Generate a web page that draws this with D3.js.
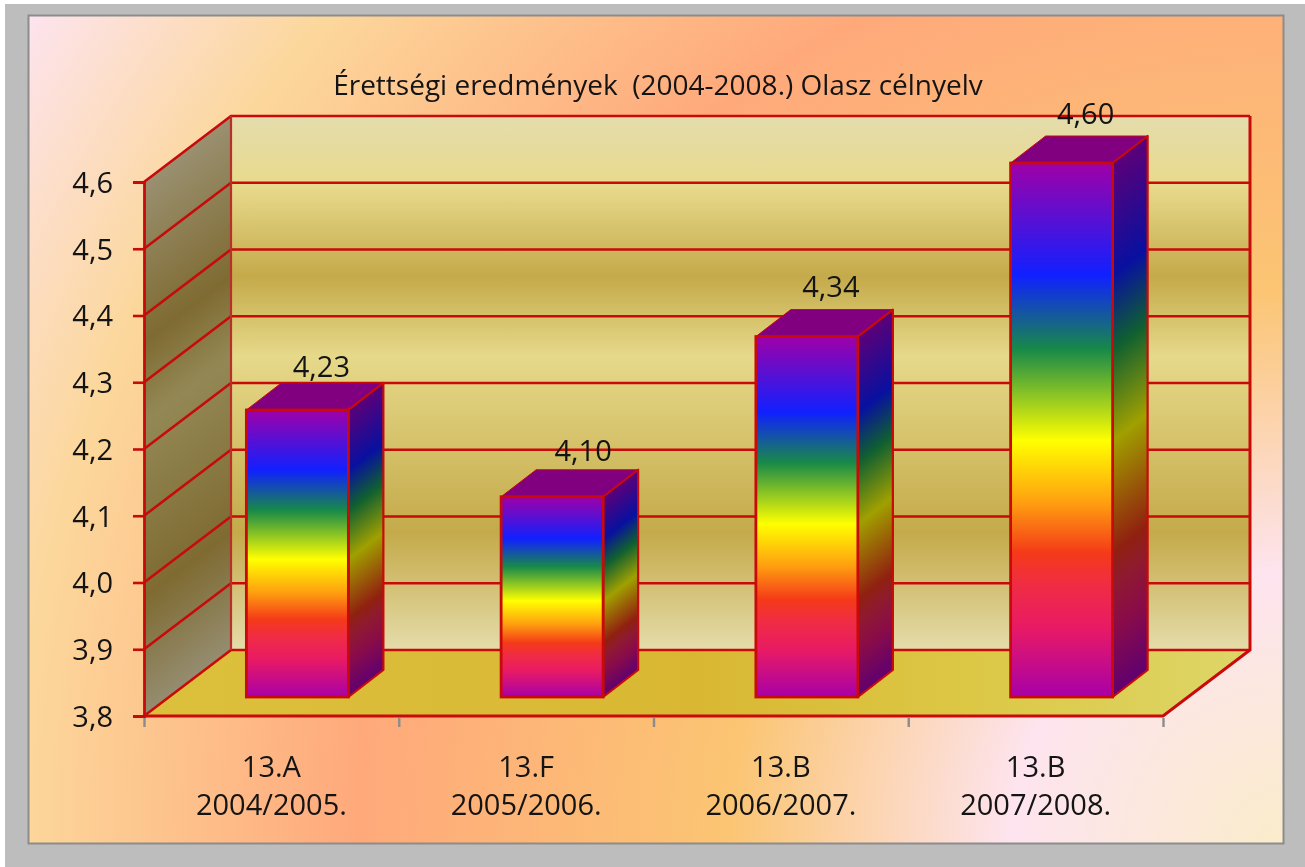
<!DOCTYPE html>
<html>
<head>
<meta charset="utf-8">
<script src="https://cdn.jsdelivr.net/npm/d3@7"></script>
<style>
    html, body { margin: 0; padding: 0; background: #fff; }
    svg { display: block; }
    text { font-family: "Open Sans", sans-serif; fill: #141414; }
</style>
</head>
<body>
<div id="chart"></div>
<script>
const titleText = "Érettségi eredmények\u00a0 (2004-2008.) Olasz célnyelv";
const classes = ["13.A", "13.F", "13.B", "13.B"];
const years = ["2004/2005.", "2005/2006.", "2006/2007.", "2007/2008."];
const values = [4.23, 4.10, 4.34, 4.60];
const yTicks = [3.8, 3.9, 4.0, 4.1, 4.2, 4.3, 4.4, 4.5, 4.6];

const barStops = [
    [0, "#a000a8"], [.21, "#1020ff"], [.35, "#188a48"], [.52, "#ffff00"], [.635, "#ffa010"],
    [.73, "#f43a18"], [.79, "#f02c44"], [.87, "#e81a64"], [1, "#a800a8"]
];
const sideStops = [
    [0, "#5c0078"], [.21, "#0810a0"], [.35, "#106030"], [.52, "#a0a000"], [.635, "#985808"],
    [.73, "#902010"], [.79, "#8e1a30"], [.87, "#8a0c48"], [1, "#600070"]
];
const wallStops = [
    [0, "#e4dcac"], [.13, "#e8da8c"], [.3, "#c4aa4a"], [.45, "#e6d98a"], [.78, "#c4aa4a"], [1, "#e5dcaa"]
];
const leftWallStops = [
    [0, "#9a9070"], [.3, "#7f6b32"], [.45, "#938855"], [.78, "#7f6b32"], [1, "#958d70"]
];
const floorStops = [[0, "#dcc03c"], [.5, "#d9b733"], [.75, "#dcc845"], [1, "#ddd668"]];
const bgStops = [
    [0, "#fbeccb"], [.18, "#fde4ef"], [.368, "#fbc573"], [.616, "#ffa97b"], [.84, "#fcd79b"], [1, "#fde4ef"]
];

const RED = "#c80a0a";
const width = 1305, height = 867;
const plot = { left: 144, right: 1163, top: 182, bottom: 716 };
const depth = { x: 87, y: -66 };      // back wall offset
const barDepth = { x: 35, y: -27 };   // depth of one bar
const barShift = { x: 26, y: -19 };   // bars stand a bit inside the floor
const BAR_W = 102;
const labelNudge = [[0, 3], [7, 0], [0, -4], [0, -3]]; // hand placed in the original

const svg = d3.select("#chart").append("svg")
    .attr("width", width)
    .attr("height", height);
const defs = svg.append("defs");
defs.append("filter").attr("id", "soft")
    .attr("color-interpolation-filters", "sRGB")
    .append("feGaussianBlur").attr("stdDeviation", 0.45);

function addStops(g, stops) {
    g.selectAll("stop").data(stops).enter().append("stop")
        .attr("offset", d => d[0])
        .attr("stop-color", d => d[1]);
}

function gradient(id, stops, x1, y1, x2, y2) {
    const g = defs.append("linearGradient")
        .attr("id", id)
        .attr("gradientUnits", "userSpaceOnUse")
        .attr("x1", x1).attr("y1", y1).attr("x2", x2).attr("y2", y2);
    addStops(g, stops);
    return `url(#${id})`;
}

// gradient whose bands run along the depth direction (a skewed face)
function skewGradient(id, stops, x, y0, y1, dir) {
    const len = Math.hypot(dir.x, dir.y);
    const nx = -dir.y / len, ny = dir.x / len;
    const n = ny > 0 ? [nx, ny] : [-nx, -ny];
    const proj = (y1 - y0) * n[1];
    return gradient(id, stops, x, y0, x + n[0] * proj, y0 + n[1] * proj);
}

const pts = a => a.map(p => p.join(",")).join(" ");

const main = svg.append("g").attr("filter", "url(#soft)");

// page and frame, background fans out from the lower right corner
const bg = defs.append("radialGradient")
    .attr("id", "bg")
    .attr("gradientUnits", "userSpaceOnUse")
    .attr("cx", 1283).attr("cy", 844).attr("r", 1504);
addStops(bg, bgStops);

main.append("rect").attr("x", 5).attr("y", 4).attr("width", width).attr("height", height)
    .attr("fill", "#bdbdbd");
main.append("rect").attr("x", 28.5).attr("y", 15.5).attr("width", 1255).attr("height", 828)
    .attr("fill", "url(#bg)")
    .attr("stroke", "#8c8c8c").attr("stroke-width", 2);

// scales
const x = d3.scaleBand().domain(d3.range(values.length)).range([plot.left, plot.right]);
const y = d3.scaleLinear().domain([3.8, 4.6]).range([plot.bottom, plot.top]);
const edge = d3.scaleLinear().domain([0, values.length]).range([plot.left, plot.right]);
const top3d = y(4.6) + depth.y;

// back wall, side wall, floor
main.append("rect")
    .attr("x", plot.left + depth.x).attr("y", top3d)
    .attr("width", plot.right - plot.left).attr("height", plot.bottom - plot.top)
    .attr("fill", gradient("wall", wallStops, 0, top3d, 0, plot.bottom + depth.y));
main.append("polygon")
    .attr("points", pts([[plot.left, plot.top], [plot.left + depth.x, top3d],
        [plot.left + depth.x, plot.bottom + depth.y], [plot.left, plot.bottom]]))
    .attr("fill", skewGradient("leftwall", leftWallStops, plot.left, plot.top, plot.bottom, depth));
main.append("polygon")
    .attr("points", pts([[plot.left, plot.bottom], [plot.right, plot.bottom],
        [plot.right + depth.x, plot.bottom + depth.y], [plot.left + depth.x, plot.bottom + depth.y]]))
    .attr("fill", gradient("floor", floorStops, plot.left, 0, plot.right + depth.x, 0));

// gridlines on both walls
main.append("g").selectAll("polyline").data(yTicks).enter().append("polyline")
    .attr("points", d => pts([[plot.left, y(d)], [plot.left + depth.x, y(d) + depth.y],
        [plot.right + depth.x, y(d) + depth.y]]))
    .attr("fill", "none")
    .attr("stroke", RED)
    .attr("stroke-width", 2.6);

// wall edges
main.append("polyline")
    .attr("points", pts([[plot.left + depth.x, top3d], [plot.left + depth.x, plot.bottom + depth.y]]))
    .attr("stroke", "#b8302a").attr("stroke-width", 2.2);
main.append("polyline")
    .attr("points", pts([[plot.right + depth.x, top3d], [plot.right + depth.x, plot.bottom + depth.y],
        [plot.right, plot.bottom], [plot.left, plot.bottom]]))
    .attr("fill", "none").attr("stroke", RED).attr("stroke-width", 3);

// axes
const yAxis = main.append("g")
    .attr("transform", `translate(${plot.left}, 0)`)
    .call(d3.axisLeft(y)
        .tickValues(yTicks)
        .tickFormat(d => d3.format(".1f")(d).replace(".", ","))
        .tickSize(11)
        .tickPadding(20));
yAxis.selectAll("path.domain").attr("stroke", RED).attr("stroke-width", 2.8);
yAxis.selectAll("line").attr("stroke", RED).attr("stroke-width", 2.6);
yAxis.selectAll("text").attr("font-size", 29).attr("dy", "0.36em").style("font-family", null);

const xAxis = main.append("g")
    .attr("transform", `translate(0, ${plot.bottom + 2})`)
    .call(d3.axisBottom(edge).tickValues(d3.range(values.length + 1)).tickFormat("").tickSize(9));
xAxis.select("path.domain").remove();
xAxis.selectAll("line").attr("stroke", "#8c8c8c").attr("stroke-width", 2.4);

// bars
const bars = main.selectAll("g.bar").data(values).enter().append("g").attr("class", "bar");
const bx = i => x(i) + (x.bandwidth() - BAR_W) / 2 + barShift.x;
const by = d => y(d) + barShift.y;
const base = plot.bottom + barShift.y;

bars.append("polygon")
    .attr("points", (d, i) => pts([[bx(i), by(d)], [bx(i) + barDepth.x, by(d) + barDepth.y],
        [bx(i) + BAR_W + barDepth.x, by(d) + barDepth.y], [bx(i) + BAR_W, by(d)]]))
    .attr("fill", "#800080")
    .attr("stroke", RED).attr("stroke-width", 1).attr("stroke-linejoin", "round");
bars.append("polygon")
    .attr("points", (d, i) => pts([[bx(i) + BAR_W, by(d)], [bx(i) + BAR_W + barDepth.x, by(d) + barDepth.y],
        [bx(i) + BAR_W + barDepth.x, base + barDepth.y], [bx(i) + BAR_W, base]]))
    .attr("fill", (d, i) => skewGradient("side" + i, sideStops, bx(i) + BAR_W, by(d), base, barDepth))
    .attr("stroke", RED).attr("stroke-width", 2.2).attr("stroke-linejoin", "round");
bars.append("rect")
    .attr("x", (d, i) => bx(i)).attr("y", d => by(d))
    .attr("width", BAR_W).attr("height", d => base - by(d))
    .attr("fill", (d, i) => gradient("front" + i, barStops, 0, by(d), 0, base))
    .attr("stroke", RED).attr("stroke-width", 2.8);

// value labels
bars.append("text")
    .attr("x", (d, i) => bx(i) + 75 + labelNudge[i][0])
    .attr("y", (d, i) => by(d) - 36 + labelNudge[i][1])
    .attr("text-anchor", "middle")
    .attr("font-size", 29)
    .text(d => d3.format(".2f")(d).replace(".", ","));

// category labels
const cats = main.append("g").selectAll("text").data(values).enter().append("text")
    .attr("text-anchor", "middle")
    .attr("font-size", 29);
cats.append("tspan")
    .attr("x", (d, i) => x(i) + x.bandwidth() / 2)
    .attr("y", 777)
    .text((d, i) => classes[i]);
cats.append("tspan")
    .attr("x", (d, i) => x(i) + x.bandwidth() / 2)
    .attr("y", 815)
    .text((d, i) => years[i]);

// title
main.append("text")
    .attr("x", 658).attr("y", 95)
    .attr("text-anchor", "middle")
    .attr("font-size", 28)
    .text(titleText);
</script>
</body>
</html>
